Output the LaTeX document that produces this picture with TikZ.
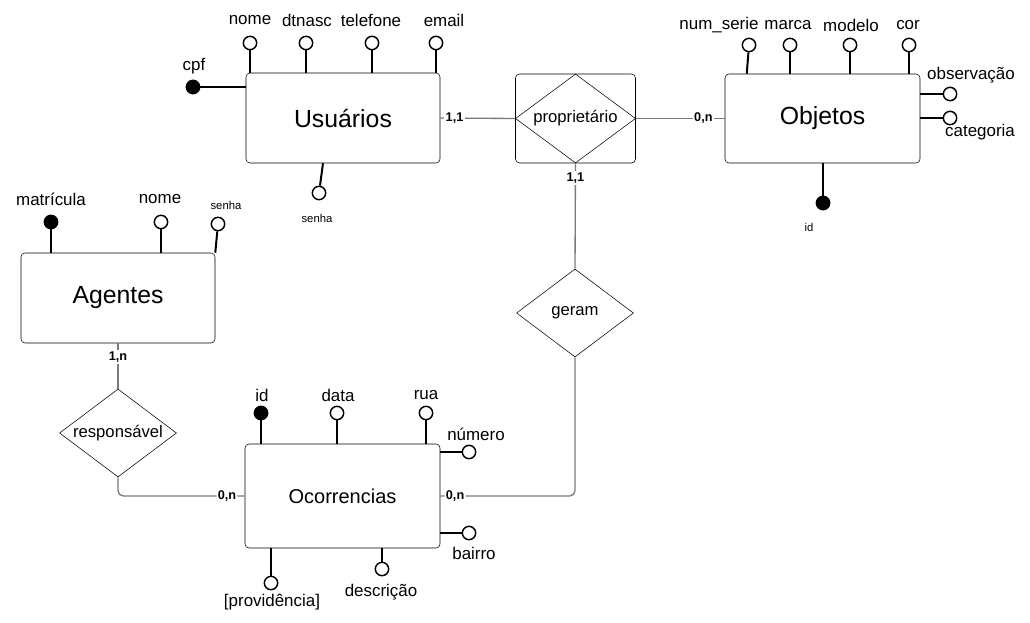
\documentclass[tikz,border=0pt]{standalone}
\usepackage{fontspec}
\setmainfont{Liberation Sans}
\usepackage{xcolor}
\usepackage{tikz}
\usetikzlibrary{positioning, arrows.meta, calc, shapes.geometric}
\definecolor{tiegray}{HTML}{7A7A7A}

\begin{document}
\begin{tikzpicture}[x=0.75pt, y=-0.75pt,
    entity/.style={draw, rounded corners=3pt, minimum width=145.5pt, minimum height=67.5pt,
                   font=\fontsize{18.6}{21}\selectfont},
    relation/.style={draw, diamond, aspect=1.33, inner sep=1pt, minimum width=87.75pt,
                     minimum height=66pt, font=\fontsize{12.5}{15}\selectfont},
    attr/.style={draw, circle, fill=white, minimum size=10pt, inner sep=0pt, line width=1.1pt},
    keyattr/.style={attr, fill=black},
    attrname/.style={inner sep=0pt, font=\fontsize{12.7}{15}\selectfont},
    smallname/.style={inner sep=0pt, font=\fontsize{8.5}{10}\selectfont},
    attrline/.style={line width=1.5pt},
    tie/.style={draw=tiegray, line width=1pt},
    card/.style={fill=white, inner sep=1pt, font=\fontsize{9.5}{11}\selectfont\bfseries}]
  \useasboundingbox (0,0) rectangle (1030,623);

  % entities
  \node[entity] (usuarios) at (343,118) {Usuários};
  \node[entity, minimum width=146.25pt, minimum height=66.75pt] (objetos) at (822.5,118.5) {Objetos};
  \node[entity] (agentes) at (118,298) {Agentes};
  \node[entity, minimum width=146.25pt, minimum height=78pt, font=\fontsize{15}{18}\selectfont]
    (ocorrencias) at (342.5,496) {Ocorrencias};

  % relationships
  \node[draw, rounded corners=3pt, minimum width=90pt, minimum height=66.75pt] (propbox) at (575.5,118.5) {};
  \node[relation, minimum width=90pt, minimum height=66.75pt] (proprietario) at (propbox) {proprietário};
  \node[relation] (geram) at (575,313) {geram};
  \node[relation] (responsavel) at (118,433) {responsável};

  % ties
  \draw[tie] (usuarios.east) -- node[card, pos=.19] (cuser) {1,1} (proprietario.west);
  \draw[tie] (proprietario.east) -- node[card, pos=.76] (cobj) {0,n} (objetos.west);
  \draw[tie] (proprietario.south) -- node[card, pos=.14] (cprop) {1,1} (geram.north);
  \draw[tie] (agentes.south) -- node[card, pos=.3] (cagt) {1,n} (responsavel.north);
  \draw[tie, rounded corners=4pt] (responsavel.south) |- node[card, pos=.93] (cresp) {0,n} (ocorrencias.west);
  \draw[tie, rounded corners=4pt] (ocorrencias.east) -| node[card, pos=.055] (cocor) {0,n} (geram.south);

  % Usuarios attributes
  \node[attr] (unome) at (250,43) {};
  \node[attr] (udtnasc) at (306,43) {};
  \node[attr] (utelefone) at (372,43) {};
  \node[attr] (uemail) at (436,43) {};
  \node[keyattr] (ucpf) at (193,87) {};
  \node[attr] (usenha) at (319,193) {};
  \node[attrname] (lunome) at (250,20) {nome};
  \node[attrname] (ludtnasc) at (307,20) {dtnasc};
  \node[attrname] (lutelefone) at (371,20) {telefone};
  \node[attrname] (luemail) at (444,20) {email};
  \node[attrname] (lucpf) at (194,66) {cpf};
  \node[smallname] (lusenha) at (317,218) {senha};
  \draw[attrline] (unome) -- (unome |- usuarios.north);
  \draw[attrline] (udtnasc) -- (udtnasc |- usuarios.north);
  \draw[attrline] (utelefone) -- (utelefone |- usuarios.north);
  \draw[attrline] (uemail) -- (uemail |- usuarios.north);
  \draw[attrline] (ucpf) -- (ucpf -| usuarios.west);
  \draw[attrline] (usenha) -- ($(usuarios.south)+(-20,0)$);

  % Objetos attributes
  \node[attr] (onumserie) at (749,45) {};
  \node[attr] (omarca) at (790,45) {};
  \node[attr] (omodelo) at (850,45) {};
  \node[attr] (ocor) at (909,45) {};
  \node[attr] (oobs) at (950,94) {};
  \node[attr] (ocategoria) at (950,118) {};
  \node[keyattr] (oid) at (823,203) {};
  \node[attrname] (lonumserie) at (719,25) {num\_serie};
  \node[attrname] (lomarca) at (788,25) {marca};
  \node[attrname] (lomodelo) at (851,25) {modelo};
  \node[attrname] (locor) at (908,25) {cor};
  \node[attrname] (loobs) at (971,75) {observação};
  \node[attrname] (locategoria) at (980,132) {categoria};
  \node[smallname] (loid) at (809,227) {id};
  \draw[attrline] (onumserie) -- ($(objetos.north west)+(22,0)$);
  \draw[attrline] (omarca) -- (omarca |- objetos.north);
  \draw[attrline] (omodelo) -- (omodelo |- objetos.north);
  \draw[attrline] (ocor) -- (ocor |- objetos.north);
  \draw[attrline] (oobs) -- (oobs -| objetos.east);
  \draw[attrline] (ocategoria) -- (ocategoria -| objetos.east);
  \draw[attrline] (oid) -- (oid |- objetos.south);

  % Agentes attributes
  \node[keyattr] (amatricula) at (51,222) {};
  \node[attr] (anome) at (161,222) {};
  \node[attr] (asenha) at (218,224) {};
  \node[attrname] (lamatricula) at (51,199) {matrícula};
  \node[attrname] (lanome) at (160,199) {nome};
  \node[smallname] (lasenha) at (226,205) {senha};
  \draw[attrline] (amatricula) -- (amatricula |- agentes.north);
  \draw[attrline] (anome) -- (anome |- agentes.north);
  \draw[attrline] (asenha) -- (agentes.north east);

  % Ocorrencias attributes
  \node[keyattr] (cid) at (261,413) {};
  \node[attr] (cdata) at (337,413) {};
  \node[attr] (crua) at (426,413) {};
  \node[attr] (cnumero) at (469,452) {};
  \node[attr] (cbairro) at (469,533) {};
  \node[attr] (cprovidencia) at (271,583) {};
  \node[attr] (cdescricao) at (382,569) {};
  \node[attrname] (lcid) at (262,395) {id};
  \node[attrname] (lcdata) at (338,395) {data};
  \node[attrname] (lcrua) at (426,395) {rua};
  \node[attrname] (lcnumero) at (476,434) {número};
  \node[attrname] (lcbairro) at (474,553) {bairro};
  \node[attrname] (lcprovidencia) at (272,602) {[providência]};
  \node[attrname] (lcdescricao) at (381,592) {descrição};
  \draw[attrline] (cid) -- (cid |- ocorrencias.north);
  \draw[attrline] (cdata) -- (cdata |- ocorrencias.north);
  \draw[attrline] (crua) -- (crua |- ocorrencias.north);
  \draw[attrline] (cnumero) -- (cnumero -| ocorrencias.east);
  \draw[attrline] (cbairro) -- (cbairro -| ocorrencias.east);
  \draw[attrline] (cprovidencia) -- (cprovidencia |- ocorrencias.south);
  \draw[attrline] (cdescricao) -- (cdescricao |- ocorrencias.south);
\end{tikzpicture}
\end{document}
